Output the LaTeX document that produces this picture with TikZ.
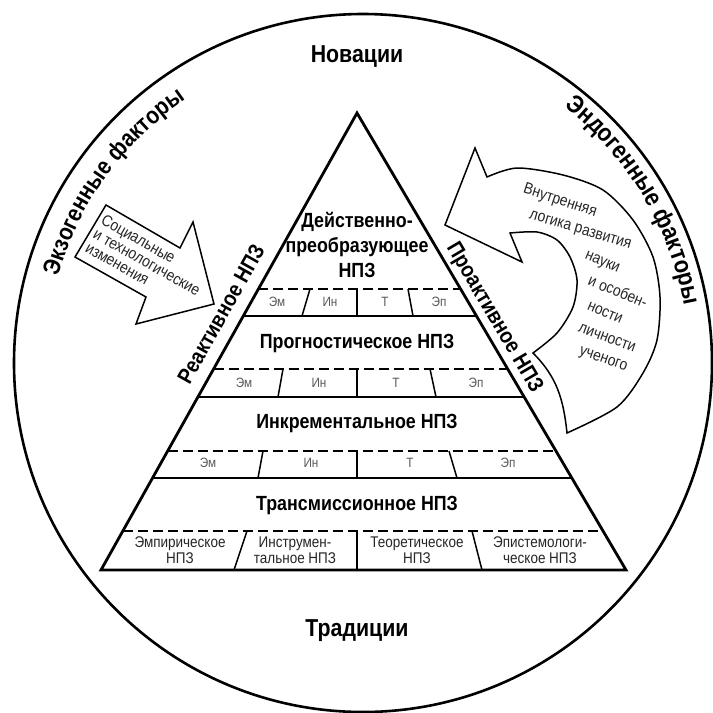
\documentclass[tikz,border=0pt]{standalone}
\usepackage{fontspec}
\setmainfont{Liberation Sans}[FakeStretch=0.87]
\usepackage{xcolor}
\usepackage{tikz}
\usetikzlibrary{decorations.text}

\definecolor{cellgray}{gray}{0.35}
\definecolor{textgray}{gray}{0.15}

\newcommand{\exofont}{\bfseries\fontsize{24}{24}\selectfont}
\newcommand{\inofont}{\bfseries\fontsize{25}{25}\selectfont}

\begin{document}
\begin{tikzpicture}[x=1pt, y=1pt,
    pole/.style={font=\bfseries\fontsize{24.5}{24.5}\selectfont, inner sep=0pt},
    side/.style={font=\bfseries\fontsize{22}{22}\selectfont, inner sep=0pt},
    level/.style={font=\bfseries\fontsize{20.5}{25}\selectfont, align=center, inner sep=0pt},
    cell/.style={font=\fontsize{13.5}{13.5}\selectfont, text=cellgray, inner sep=0pt},
    base cell/.style={font=\fontsize{15.5}{16}\selectfont, text=textgray, align=center, inner sep=0pt},
    arrow text/.style={font=\fontsize{16}{16}\selectfont, text=textgray, inner sep=0pt},
    sep/.style={line width=1.5pt},
    dsep/.style={line width=1.5pt, dash pattern=on 10pt off 5pt},
    block/.style={line width=1.5pt, line join=miter}]
    \useasboundingbox (0,0) rectangle (713,-713);

    % Circle and poles
    \draw[line width=2.6pt] (363,-363) circle[radius=349];
    \node[pole] (nov) at (357,-57) {Новации};
    \node[pole] (trad) at (357,-631) {Традиции};

    % Factors along the circle
    \path[decorate, decoration={text along path, text align=center,
        text={|\exofont|Экзогенные факторы}}]
        (363,-363) ++(184:317) arc[start angle=184, end angle=104, radius=317];
    \path[decorate, decoration={text along path, text align=center,
        text={|\inofont|Эндогенные факторы}}]
        (363,-363) ++(71:326) arc[start angle=71, end angle=-9, radius=326];

    % Pyramid
    \coordinate (apex) at (357,-113);
    \coordinate (bl) at (101,-570);
    \coordinate (br) at (626,-570);
    \draw[line width=2.8pt, line join=miter] (apex) -- (bl) -- (br) -- cycle;

    % Layer boundaries
    \draw[dsep] (258.4,-289) -- (460.6,-289);
    \draw[sep] (243.3,-316) -- (476.5,-316);
    \draw[dsep] (213.6,-369) -- (507.7,-369);
    \draw[sep] (197.9,-397) -- (524.2,-397);
    \draw[dsep] (167.7,-451) -- (556.0,-451);
    \draw[sep] (152.5,-478) -- (571.8,-478);
    \draw[dsep] (122.8,-531) -- (603.0,-531);

    % Cell dividers
    \draw[sep] (310,-289) -- (302,-316);
    \draw[sep] (357,-289) -- (357,-316);
    \draw[sep] (408,-289) -- (413,-316);
    \draw[sep] (283,-369) -- (278,-397);
    \draw[sep] (357,-369) -- (357,-397);
    \draw[sep] (430,-369) -- (436,-397);
    \draw[sep] (263,-451) -- (258,-478);
    \draw[sep] (357,-451) -- (357,-478);
    \draw[sep] (449,-451) -- (457,-478);
    \draw[sep] (247,-531) -- (234,-570);
    \draw[sep] (357,-531) -- (357,-570);
    \draw[sep] (472,-531) -- (482,-570);

    % Level titles
    \node[level] (act) at (357,-245) {Действенно-\\преобразующее\\НПЗ};
    \node[level] (prog) at (357,-343) {Прогностическое НПЗ};
    \node[level] (incr) at (357,-423) {Инкрементальное НПЗ};
    \node[level] (trans) at (357,-505) {Трансмиссионное НПЗ};

    % Cells
    \node[cell] (em1) at (277,-302) {Эм};
    \node[cell] (in1) at (330,-302) {Ин};
    \node[cell] (t1) at (385,-302) {Т};
    \node[cell] (ep1) at (439,-302) {Эп};
    \node[cell] (em2) at (244,-383) {Эм};
    \node[cell] (in2) at (319,-383) {Ин};
    \node[cell] (t2) at (396,-383) {Т};
    \node[cell] (ep2) at (476,-383) {Эп};
    \node[cell] (em3) at (208,-463) {Эм};
    \node[cell] (in3) at (311,-463) {Ин};
    \node[cell] (t3) at (410,-463) {Т};
    \node[cell] (ep3) at (508,-463) {Эп};
    \node[base cell] (emp) at (180,-550) {Эмпирическое\\НПЗ};
    \node[base cell] (instr) at (295,-550) {Инструмен-\\тальное НПЗ};
    \node[base cell] (theor) at (417,-550) {Теоретическое\\НПЗ};
    \node[base cell] (epist) at (540,-550) {Эпистемологи-\\ческое НПЗ};

    % Side labels
    \node[side, rotate=60.7] (react) at (221,-314) {Реактивное НПЗ};
    \node[side, rotate=-59.5] (proact) at (494,-318) {Проактивное НПЗ};

    % Exogenous arrow
    \draw[block] (106,-205) -- (180,-248) -- (193,-222) -- (214,-304)
        -- (136,-324) -- (146,-297) -- (75,-257) -- cycle;
    \node[arrow text, rotate=-29.5, align=left] (soc) at (147,-262)
        {Социальные\\и технологические\\изменения};

    % Endogenous arrow
    \draw[block] (445,-225) -- (475,-148) -- (487,-177)
        -- plot[smooth] coordinates {(487,-177) (517,-168) (563,-175) (603,-190)
            (633,-220) (653,-257) (660,-297) (657,-340) (643,-373) (617,-407) (567,-433)}
        to[out=96, in=-45] (533,-353)
        -- plot[smooth] coordinates {(533,-353) (557,-333) (573,-307) (577,-280)
            (570,-257) (557,-240) (537,-232) (510,-233)}
        -- (522,-262) -- cycle;
    \node[arrow text, rotate=-18] (vn) at (560,-201) {Внутренняя};
    \node[arrow text, rotate=-16.5] (log) at (580,-231) {логика развития};
    \node[arrow text, rotate=-23] (nauk) at (602,-263) {науки};
    \node[arrow text, rotate=-22] (osob) at (618,-291) {и особен-};
    \node[arrow text, rotate=-23] (nost) at (605,-313) {ности};
    \node[arrow text, rotate=-20] (lich) at (607,-338) {личности};
    \node[arrow text, rotate=-19] (uch) at (603,-360) {ученого};
\end{tikzpicture}
\end{document}
